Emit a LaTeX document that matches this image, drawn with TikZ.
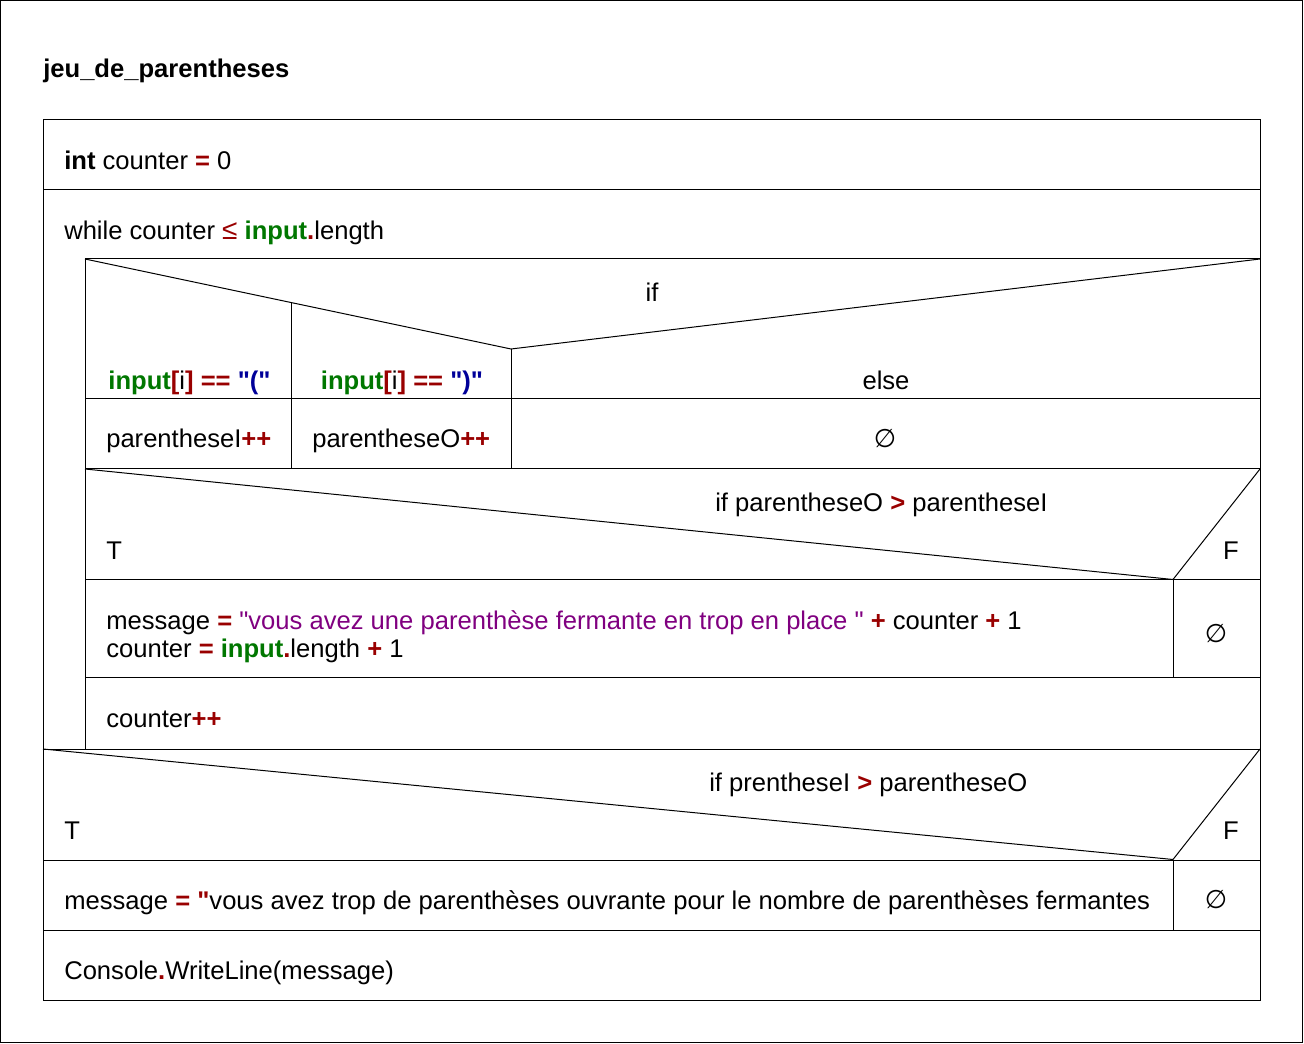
\documentclass[tikz,border=0pt]{standalone}
\usepackage{fontspec}
\setmainfont{Liberation Sans}[Ligatures=TeXOff]
\newfontfamily\symfam{DejaVu Sans}
\definecolor{opred}{RGB}{153,0,0}
\definecolor{kwgreen}{RGB}{0,119,0}
\definecolor{strblue}{RGB}{0,0,153}
\definecolor{strpurple}{RGB}{128,0,128}
\newcommand\opx[1]{\textcolor{opred}{\textbf{#1}}}
\newcommand\kwx[1]{\textcolor{kwgreen}{\textbf{#1}}}
\newcommand\stx[1]{\textcolor{strblue}{\textbf{#1}}}
\newcommand\dqx{\char34\relax}
\newcommand\emptyx{{\symfam ∅}}
\tikzset{
  lbl/.style={inner sep=0pt, anchor=base west, yshift=-1.1pt, font=\fontsize{19.2pt}{21pt}\selectfont},
  clbl/.style={inner sep=0pt, anchor=base, yshift=-1.1pt, font=\fontsize{19.2pt}{21pt}\selectfont},
  ln/.style={line width=0.75pt, black}
}
\begin{document}
\begin{tikzpicture}[x=0.75pt,y=-0.75pt]
\useasboundingbox (0,0) rectangle (1304,1044);
\draw[ln] (0.5,0.5) rectangle (1302.5,1042.5);
% structure
\draw[ln] (43,120) rectangle (1260,1000);
\draw[ln] (43,190) -- (1260,190);
\draw[ln] (85,259) -- (1260,259);
\draw[ln] (85,259) -- (85,749);
\draw[ln] (85,259) -- (511,349) -- (1260,259);
\draw[ln] (291,302.5) -- (291,469);
\draw[ln] (511,349) -- (511,469);
\draw[ln] (85,399) -- (1260,399);
\draw[ln] (85,469) -- (1260,469);
\draw[ln] (85,469) -- (1173,579.5) -- (1260,469);
\draw[ln] (85,580) -- (1260,580);
\draw[ln] (1173,580) -- (1173,678);
\draw[ln] (85,678) -- (1260,678);
\draw[ln] (43,749) -- (1260,749);
\draw[ln] (43,749) -- (1173,859.5) -- (1260,749);
\draw[ln] (43,860) -- (1260,860);
\draw[ln] (1173,860) -- (1173,930);
\draw[ln] (43,930) -- (1260,930);
% texts
\node[lbl] (title) at (43,76) {\textbf{jeu\_de\_parentheses}};
\node[lbl] (init) at (64,168) {\textbf{int} counter \opx{=} 0};
\node[lbl] (while) at (64,238) {while counter \textcolor{opred}{\fontsize{21pt}{21pt}\selectfont ≤} \kwx{input}\opx{.}length};
\node[clbl] (if1) at (652,300) {if};
\node[clbl] (c1) at (189.5,388) {\kwx{input}\opx{[}i\opx{]} \opx{==} \stx{\dqx(\dqx}};
\node[clbl] (c2) at (402,388) {\kwx{input}\opx{[}i\opx{]} \opx{==} \stx{\dqx)\dqx}};
\node[clbl] (celse) at (886,388) {else};
\node[lbl] (a1) at (106,446) {parentheseI\opx{++}};
\node[lbl] (a2) at (312,446) {parentheseO\opx{++}};
\node[clbl] (a3) at (885,446) {\emptyx};
\node[lbl] (if2) at (715,510) {if parentheseO \opx{>} parentheseI};
\node[lbl] (t2) at (106,558) {T};
\node[clbl] (f2) at (1231,558) {F};
\node[lbl] (m1) at (106,628) {message \opx{=} \textcolor{strpurple}{\dqx vous avez une parenthèse fermante en trop en place \dqx} \opx{+} counter \opx{+} 1};
\node[lbl] (m2) at (106,656) {counter \opx{=} \kwx{input}\opx{.}length \opx{+} 1};
\node[clbl] (e2) at (1216,641) {\emptyx};
\node[lbl] (inc) at (106,726) {counter\opx{++}};
\node[lbl] (if3) at (709,790) {if prentheseI \opx{>} parentheseO};
\node[lbl] (t3) at (64,838) {T};
\node[clbl] (f3) at (1231,838) {F};
\node[lbl] (m3) at (64,908) {message \opx{=} \opx{\dqx}vous avez trop de parenthèses ouvrante pour le nombre de parenthèses fermantes};
\node[clbl] (e3) at (1216,907) {\emptyx};
\node[lbl] (cw) at (64,978) {Console\opx{.}WriteLine(message)};
\end{tikzpicture}
\end{document}
